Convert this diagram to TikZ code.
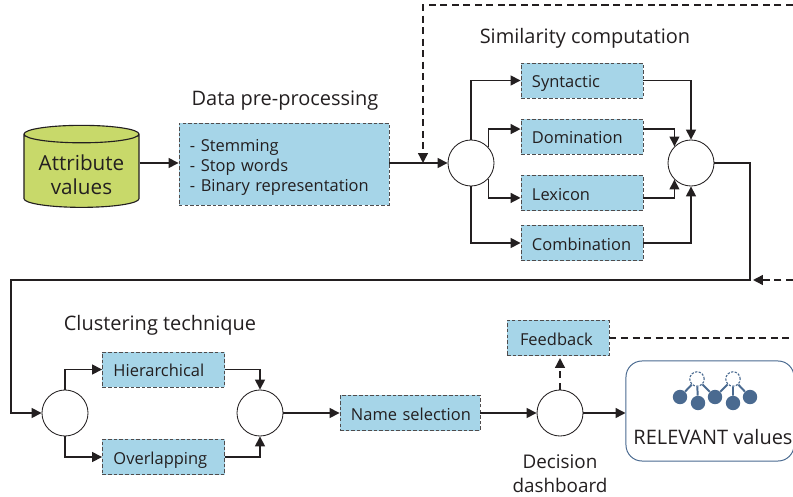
\documentclass[tikz,border=0pt]{standalone}
\usepackage{fontspec}
\setmainfont{Open Sans}
\usetikzlibrary{arrows.meta,shapes.geometric}
\definecolor{boxblue}{HTML}{A6D5E8}
\definecolor{cyllime}{HTML}{C8D96A}
\definecolor{inkdark}{HTML}{231F20}
\definecolor{iconblue}{HTML}{4A6A90}
\tikzset{
    flow/.style={draw=inkdark, line width=1pt, -{Triangle[length=7pt,width=7pt]}},
    backflow/.style={flow, dash pattern=on 5pt off 3.2pt},
    plainbox/.style={draw=inkdark!80, dash pattern=on 2.5pt off 1.5pt, line width=0.6pt, fill=boxblue, text=inkdark,
        inner xsep=0.275cm, inner ysep=0pt, align=left},
    stepbox/.style={plainbox, minimum height=0.875cm, text width=2.5cm, text height=11pt, text depth=0.4pt,
        font=\fontsize{11.7}{14}\selectfont},
    joint/.style={circle, draw=inkdark, line width=0.6pt, fill=white, minimum size=1.15cm, inner sep=0pt},
    heading/.style={text=inkdark, font=\fontsize{14.2}{17}\selectfont, align=center},
    peer/.style={circle, fill=iconblue, minimum size=0.36cm, inner sep=0pt},
    hub/.style={circle, draw=iconblue, dash pattern=on 1.6pt off 1pt, line width=0.8pt, minimum size=0.36cm, inner sep=0pt},
}
\begin{document}
\begin{tikzpicture}[x=0.025cm,y=-0.025cm]
    \useasboundingbox (0,0) rectangle (793,497);

    % Source and pre-processing
    \node[cylinder, shape border rotate=90, aspect=0.3, draw=inkdark, line width=0.8pt, fill=cyllime,
        minimum width=2.875cm, minimum height=2.05cm, inner sep=0pt] (attr) at (81.5,171) {\phantom{Attribute}};
    \node[heading, font=\fontsize{14.7}{17}\selectfont] (attrlabel) at (81.5,175) {Attribute\\values};
    \node[plainbox, text width=4.7cm, minimum height=2.05cm, font=\fontsize{11.7}{14.2}\selectfont] (prep) at (284,164)
        {\rule{0pt}{12.9pt}- Stemming\\- Stop words\\- Binary representation};
    \node[heading] (prephead) at (285,100.5) {Data pre-processing};

    % Similarity computation
    \node[heading] (simhead) at (585,38.5) {Similarity computation};
    \node[joint] (simin) at (471,163) {};
    \node[joint] (simout) at (691,163) {};
    \node[stepbox] (syn) at (582,80.5) {Syntactic};
    \node[stepbox] (dom) at (582,136.5) {Domination};
    \node[stepbox] (lex) at (582,193) {Lexicon};
    \node[stepbox] (comb) at (582,243) {Combination};

    % Clustering technique
    \node[heading] (cluhead) at (160,325.5) {Clustering technique};
    \node[joint] (cluin) at (65,413) {};
    \node[joint] (cluout) at (260,413) {};
    \node[stepbox] (hier) at (163.5,369.5) {Hierarchical};
    \node[stepbox] (over) at (163.5,457) {Overlapping};
    \node[stepbox, text width=2.95cm] (name) at (410,413) {\mbox{Name selection}};

    % Decision and result
    \node[joint] (deci) at (560,413) {};
    \node[heading, font=\fontsize{13.4}{17}\selectfont] (decilabel) at (560,474) {Decision\\dashboard};
    \node[stepbox, text width=1.9cm, inner xsep=0.325cm] (feed) at (558,338) {Feedback};
    \node[draw=iconblue, line width=0.7pt, rounded corners=0.4cm, minimum width=4.2cm, minimum height=2.5cm, inner sep=0pt] (rel) at (710,411) {};
    \node[heading] (rellabel) at (713,437) {RELEVANT values};

    % Icon above the result label
    \node[hub] (huba) at (697,379) {};
    \node[hub] (hubb) at (733,379) {};
    \foreach \id/\px/\py in {a/680/397, b/698/403, c/715/397, d/733/403, e/750/397} {
        \node[peer] (peer\id) at (\px,\py) {};
    }
    \draw[iconblue, line width=1.4pt] (peera) -- (huba) (peerb) -- (huba) (peerc) -- (huba)
        (peerc) -- (hubb) (peerd) -- (hubb) (peere) -- (hubb);

    % Free ends of the dashed lines
    \coordinate (topright) at (793,5);
    \coordinate (topleft) at (423,5);
    \coordinate (merge) at (423,163);
    \coordinate (midright) at (793,280);
    \coordinate (midtip) at (753,280);
    \coordinate (midcorner) at (750,280);
    \coordinate (lowleft) at (11,280);
    \coordinate (feedend) at (793,338);

    % Connectors
    \draw[flow] (attr.east |- simin.west) -- (prep.west |- simin.west);
    \draw[flow] (prep.east |- simin.west) -- (simin.west);
    \draw[flow] (simin.north) |- (syn.west);
    \draw[flow] (simin.42) |- ([yshift=5.3pt]dom.west);
    \draw[flow] (simin.-42) |- ([yshift=-3.5pt]lex.west);
    \draw[flow] (simin.south) |- (comb.west);
    \draw[flow] (syn.east) -| (simout.north);
    \draw[flow] ([yshift=5.3pt]dom.east) -| (simout.135);
    \draw[flow] ([yshift=-3.5pt]lex.east) -| (simout.225);
    \draw[flow] (comb.east) -| (simout.south);
    \draw[flow] (simout.east) -| (midcorner) -- (lowleft) |- (cluin.west);
    \draw[flow] (cluin.north) |- (hier.west);
    \draw[flow] (cluin.south) |- (over.west);
    \draw[flow] (hier.east) -| (cluout.north);
    \draw[flow] (over.east) -| (cluout.south);
    \draw[flow] (cluout.east) -- (name.west);
    \draw[flow] (name.east) -- (deci.west);
    \draw[flow] (deci.east) -- (rel.west |- deci.east);
    \draw[backflow] (deci.north) -- ([yshift=-1.5pt]deci.north |- feed.south);
    \draw[backflow] (topright) -- (topleft) -- (merge);
    \draw[backflow] (midright) -- (midtip);
    \draw[backflow, -] (feed.east) -- (feedend);
\end{tikzpicture}
\end{document}
